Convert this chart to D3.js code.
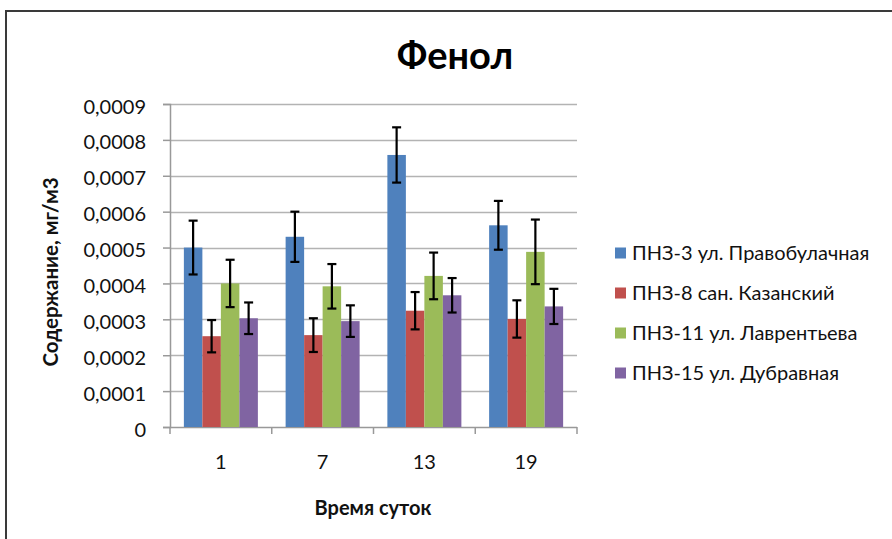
<!DOCTYPE html>
<html><head><meta charset="utf-8">
<script src="https://cdn.jsdelivr.net/npm/d3@7"></script>
<style>body{margin:0;background:#fff}svg{display:block}text{font-family:Lato,"Open Sans",sans-serif}</style>
</head><body><svg id="c" width="892" height="539"></svg>
<script>
const categories = ["1","7","13","19"];
const seriesNames = ["ПНЗ-3 ул. Правобулачная","ПНЗ-8 сан. Казанский","ПНЗ-11 ул. Лаврентьева","ПНЗ-15 ул. Дубравная"];
const seriesColors = ["#4F81BD","#C0504D","#9BBB59","#8064A2"];
const values = [
  [0.000500, 0.000530, 0.000758, 0.000562],
  [0.000253, 0.000256, 0.000324, 0.000301],
  [0.000400, 0.000392, 0.000421, 0.000488],
  [0.000303, 0.000295, 0.000367, 0.000336]
];
const errors = [
  [0.000075, 0.000070, 0.000077, 0.000068],
  [0.000045, 0.000047, 0.000052, 0.000052],
  [0.000066, 0.000062, 0.000065, 0.000090],
  [0.000044, 0.000044, 0.000048, 0.000049]
];
const yTicks = [0,0.0001,0.0002,0.0003,0.0004,0.0005,0.0006,0.0007,0.0008,0.0009];
const title = "Фенол";
const xTitle = "Время суток";
const yTitle = "Содержание, мг/м3";

const svg = d3.select("#c");
svg.append("rect").attr("x",6).attr("y",11).attr("width",900).attr("height",560)
  .attr("fill","#fff").attr("stroke","#3a3a3a").attr("stroke-width",2);

const L=170,R=577,T=104,B=427;
const x = d3.scaleBand().domain(categories).range([L,R]).paddingInner(0).paddingOuter(0);
const inner = d3.scaleBand().domain(d3.range(seriesNames.length)).range([0,x.bandwidth()]).paddingInner(0).paddingOuter(0.75);
const y = d3.scaleLinear().domain([0,0.0009]).range([B,T]);

// gridlines
svg.append("g").selectAll("line").data(yTicks.slice(1)).join("line")
  .attr("x1",L).attr("x2",R).attr("y1",d=>Math.round(y(d))+0.5).attr("y2",d=>Math.round(y(d))+0.5)
  .attr("stroke","#b3b3b3").attr("stroke-width",1.5);

// y axis
const yAxis = d3.axisLeft(y).tickValues(yTicks).tickSize(7).tickPadding(17)
  .tickFormat(d=> d===0 ? "0" : d3.format(".4f")(d).replace(".",","));
const gy = svg.append("g").attr("transform",`translate(${L},0)`).call(yAxis);
gy.select(".domain").attr("stroke","#999").attr("stroke-width",1.5);
gy.selectAll(".tick line").attr("stroke","#999").attr("stroke-width",1.5);
gy.selectAll("text").attr("font-size",20).attr("fill","#111").attr("dy","0.45em");

// x axis
const gx = svg.append("g").attr("transform",`translate(0,${B})`);
gx.append("line").attr("x1",L).attr("x2",R).attr("y1",0.5).attr("y2",0.5).attr("stroke","#999").attr("stroke-width",1.5);
const bounds = categories.map(c=>x(c)).concat([R]);
gx.selectAll("line.tk").data(bounds).join("line").attr("class","tk")
  .attr("x1",d=>d).attr("x2",d=>d).attr("y1",0).attr("y2",7).attr("stroke","#999").attr("stroke-width",1.5);
gx.selectAll("text").data(categories).join("text")
  .attr("x",d=>x(d)+x.bandwidth()/2).attr("y",42).attr("text-anchor","middle")
  .attr("font-size",20).attr("fill","#111").text(d=>d);

// bars
seriesNames.forEach((s,i)=>{
  const g = svg.append("g");
  g.selectAll("rect").data(categories).join("rect")
    .attr("x",c=>x(c)+inner(i)).attr("width",inner.bandwidth())
    .attr("y",(c,j)=>y(values[i][j])).attr("height",(c,j)=>B-y(values[i][j]))
    .attr("fill",seriesColors[i]);
});
// error bars
seriesNames.forEach((s,i)=>{
  const g = svg.append("g").attr("stroke","#000").attr("stroke-width",2.2);
  categories.forEach((c,j)=>{
    const cx = x(c)+inner(i)+inner.bandwidth()/2;
    const hi = y(values[i][j]+errors[i][j]), lo = y(values[i][j]-errors[i][j]);
    g.append("line").attr("x1",cx).attr("x2",cx).attr("y1",hi).attr("y2",lo);
    g.append("line").attr("x1",cx-4.5).attr("x2",cx+4.5).attr("y1",hi).attr("y2",hi);
    g.append("line").attr("x1",cx-4.5).attr("x2",cx+4.5).attr("y1",lo).attr("y2",lo);
  });
});

// title
svg.append("text").attr("x",455).attr("y",69).attr("text-anchor","middle")
  .attr("font-size",38).attr("font-weight","bold").attr("fill","#000").text(title);
svg.append("text").attr("x",373).attr("y",515).attr("text-anchor","middle")
  .attr("font-size",20).attr("font-weight","bold").attr("fill","#111").text(xTitle);
svg.append("text").attr("transform",`translate(58,272) rotate(-90)`).attr("text-anchor","middle")
  .attr("font-size",20.5).attr("font-weight","bold").attr("fill","#111").text(yTitle);

// legend
const lg = svg.append("g");
seriesNames.forEach((s,i)=>{
  const cy = 253 + i*40;
  lg.append("rect").attr("x",615).attr("y",cy-5.5).attr("width",11).attr("height",11).attr("fill",seriesColors[i]);
  lg.append("text").attr("x",632).attr("y",cy+7).attr("font-size",20).attr("fill","#111").text(s);
});
</script></body></html>
